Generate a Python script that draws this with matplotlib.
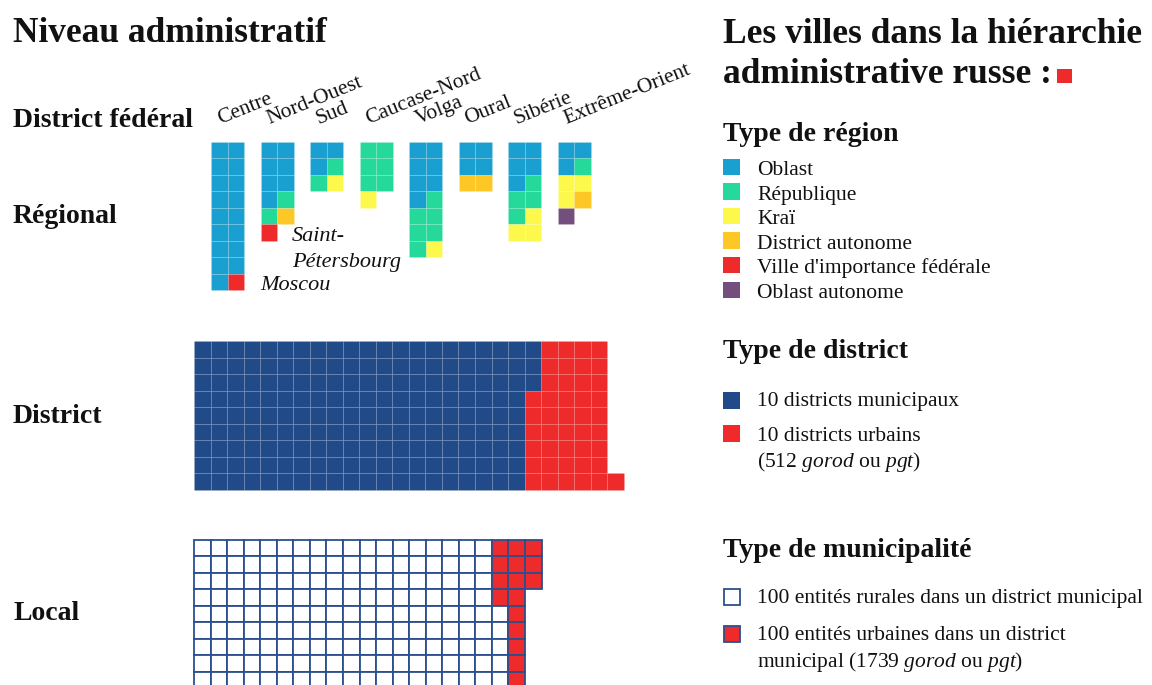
import matplotlib
matplotlib.use("Agg")
import matplotlib.pyplot as plt
from matplotlib.patches import Rectangle

# ---------------- data ----------------
districts = ["Centre", "Nord-Ouest", "Sud", "Caucase-Nord", "Volga", "Oural", "Sibérie", "Extrême-Orient"]
region_types = ["Oblast", "République", "Kraï", "District autonome",
                "Ville d'importance fédérale", "Oblast autonome"]
oblast = [17, 7, 3, 0, 7, 4, 5, 3]
republique = [0, 2, 2, 6, 6, 0, 4, 1]
krai = [0, 0, 1, 1, 1, 0, 3, 3]
district_autonome = [0, 1, 0, 0, 0, 2, 0, 1]
ville_federale = [1, 1, 0, 0, 0, 0, 0, 0]
oblast_autonome = [0, 0, 0, 0, 0, 0, 0, 1]

# district level: cells per column (municipal from top, urban from bottom)
district_mun_per_col = [9] * 20 + [3, 0, 0, 0, 0, 0]
district_urb_per_col = [0] * 20 + [6, 9, 9, 9, 9, 1]
# local level: cells per column (urban from top, rural from bottom)
local_urb_per_col = [0] * 18 + [4, 10, 3]
local_rur_per_col = [10] * 18 + [6, 0, 0]

level_labels = ["District fédéral", "Régional", "District", "Local"]

# ---------------- style ----------------
C_OBLAST = "#1a9fd1"
C_REP = "#25d99b"
C_KRAI = "#fdf84c"
C_AO = "#fdc826"
C_RED = "#ee2a2b"
C_PURPLE = "#744f7e"
C_NAVY = "#214a88"
C_EDGE = "#2b4f8f"
TXT = "#111111"
region_colors = [C_OBLAST, C_REP, C_KRAI, C_AO, C_RED, C_PURPLE]

plt.rcParams["font.family"] = ["Liberation Serif", "DejaVu Serif"]
plt.rcParams["mathtext.fontset"] = "custom"
plt.rcParams["mathtext.rm"] = "Liberation Serif"
plt.rcParams["mathtext.it"] = "Liberation Serif:italic"

W, H = 1152, 685
fig = plt.figure(figsize=(W / 100, H / 100), dpi=100)
ax = fig.add_axes([0, 0, 1, 1])
ax.set_xlim(0, W)
ax.set_ylim(H, 0)
ax.axis("off")
renderer = fig.canvas.get_renderer()

# ---------------- headings ----------------
ax.text(13, 42, "Niveau administratif", fontsize=25.5, fontweight="bold", color=TXT, va="baseline")
ax.text(723, 43, "Les villes dans la hiérarchie", fontsize=25.5, fontweight="bold", color=TXT, va="baseline")
t = ax.text(723, 83, "administrative russe :", fontsize=25.5, fontweight="bold", color=TXT, va="baseline")
xe = 723 + t.get_window_extent(renderer).width
ax.add_patch(Rectangle((xe + 5, 69), 15, 14, facecolor=C_RED, edgecolor="none"))

for lab, yb in zip(level_labels, [127, 223, 423, 620]):
    ax.text(13, yb, lab, fontsize=20, fontweight="bold", color=TXT, va="baseline")

# ---------------- regional waffles ----------------
CELL = 16.5
RX0, RY0 = 211, 141.7
grid_edge = (1, 1, 1, 0.14)
counts = [oblast, republique, krai, district_autonome, ville_federale, oblast_autonome]
for i, name in enumerate(districts):
    x0 = RX0 + i * 3 * CELL
    seq = []
    for k, c in enumerate(counts):
        seq += [region_colors[k]] * c[i]
    for j, col in enumerate(seq):
        r, c = divmod(j, 2)
        ax.add_patch(Rectangle((x0 + c * CELL, RY0 + r * CELL), CELL, CELL,
                               facecolor=col, edgecolor=grid_edge, lw=0.6))
    ax.text(x0 + 9, 124, name, fontsize=15.5, color=TXT, rotation=22,
            rotation_mode="anchor", ha="left", va="baseline")

ax.text(260, 290, "Moscou", fontsize=16, fontstyle="italic", color=TXT, va="baseline")
ax.text(292, 241, "Saint-", fontsize=16, fontstyle="italic", color=TXT, va="baseline")
ax.text(292, 267, "Pétersbourg", fontsize=16, fontstyle="italic", color=TXT, va="baseline")

# ---------------- district waffle ----------------
DC = 16.53
DX0, DY0, DROWS = 194, 341, 9
d_edge = (1, 1, 1, 0.07)
for c, (nm, nu) in enumerate(zip(district_mun_per_col, district_urb_per_col)):
    for r in range(nm):
        ax.add_patch(Rectangle((DX0 + c * DC, DY0 + r * DC), DC, DC,
                               facecolor=C_NAVY, edgecolor=d_edge, lw=0.7))
    for r in range(DROWS - nu, DROWS):
        ax.add_patch(Rectangle((DX0 + c * DC, DY0 + r * DC), DC, DC,
                               facecolor=C_RED, edgecolor=d_edge, lw=0.7))

# ---------------- local waffle ----------------
LC = 16.55
LX0, LY0, LROWS = 194, 539.5, 10
for c, (nu, nr) in enumerate(zip(local_urb_per_col, local_rur_per_col)):
    for r in range(nu):
        ax.add_patch(Rectangle((LX0 + c * LC, LY0 + r * LC), LC, LC,
                               facecolor=C_RED, edgecolor=C_EDGE, lw=1.3))
    for r in range(LROWS - nr, LROWS):
        ax.add_patch(Rectangle((LX0 + c * LC, LY0 + r * LC), LC, LC,
                               facecolor="white", edgecolor=C_EDGE, lw=1.3))

# ---------------- legends ----------------
LEGX, LABX = 723, 757
LS = 15.5
ax.text(LEGX, 141, "Type de région", fontsize=20, fontweight="bold", color=TXT, va="baseline")
for k, (lab, col) in enumerate(zip(region_types, region_colors)):
    yb = 175 + k * 24.6
    ax.add_patch(Rectangle((LEGX, yb - 16.5), 16.5, 16.5, facecolor=col, edgecolor="none"))
    ax.text(LABX, yb, lab, fontsize=LS, color=TXT, va="baseline")

ax.text(LEGX, 358, "Type de district", fontsize=20, fontweight="bold", color=TXT, va="baseline")
ax.add_patch(Rectangle((LEGX, 392), 16.5, 16.5, facecolor=C_NAVY, edgecolor="none"))
ax.text(LABX, 406, "10 districts municipaux", fontsize=LS, color=TXT, va="baseline")
ax.add_patch(Rectangle((LEGX, 425), 16.5, 16.5, facecolor=C_RED, edgecolor="none"))
ax.text(LABX, 441, "10 districts urbains", fontsize=LS, color=TXT, va="baseline")
ax.text(LABX, 467, r"(512 $\mathit{gorod}$ ou $\mathit{pgt}$)", fontsize=LS, color=TXT, va="baseline")

ax.text(LEGX, 557, "Type de municipalité", fontsize=20, fontweight="bold", color=TXT, va="baseline")
ax.add_patch(Rectangle((LEGX + 1, 589), 16, 16, facecolor="white", edgecolor=C_EDGE, lw=1.3))
ax.text(LABX, 603, "100 entités rurales dans un district municipal", fontsize=LS, color=TXT, va="baseline")
ax.add_patch(Rectangle((LEGX + 1, 626), 16, 16, facecolor=C_RED, edgecolor=C_EDGE, lw=1.3))
ax.text(LABX, 640, "100 entités urbaines dans un district", fontsize=LS, color=TXT, va="baseline")
ax.text(LABX, 667, r"municipal (1739 $\mathit{gorod}$ ou $\mathit{pgt}$)", fontsize=LS, color=TXT, va="baseline")

fig.savefig("out.png", dpi=100)
